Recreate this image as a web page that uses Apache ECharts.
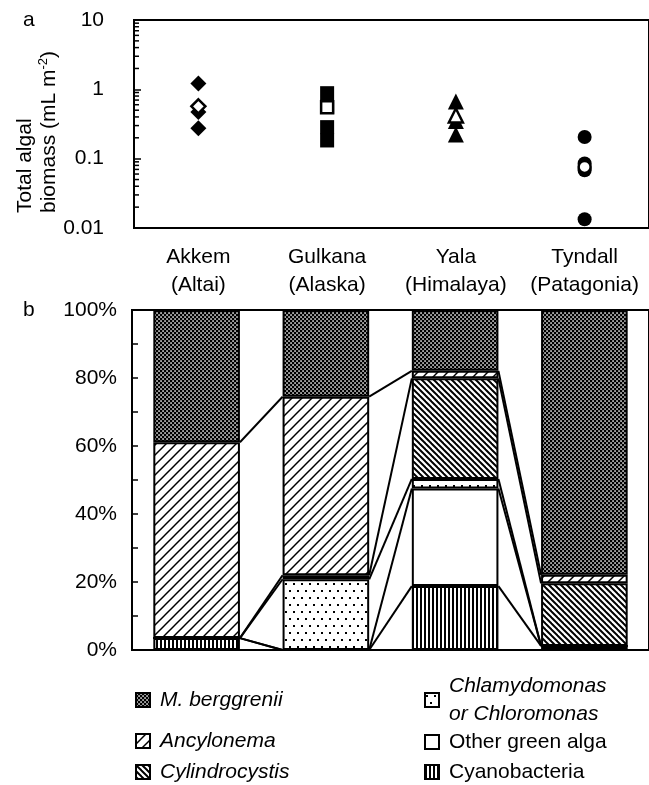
<!DOCTYPE html>
<html><head><meta charset="utf-8">
<script src="https://cdn.jsdelivr.net/npm/echarts@6/dist/echarts.min.js"></script>
<style>html,body{margin:0;padding:0;background:#fff}#c{width:649px;height:785px}</style>
</head><body><div id="c"></div>
<script>
// ---- data ----
const sites = ['Akkem\n(Altai)', 'Gulkana\n(Alaska)', 'Yala\n(Himalaya)', 'Tyndall\n(Patagonia)'];
// panel a: total algal biomass (mL m-2), filled = samples, open = mean
const akkemVals = [1.21, 0.47, 0.275];
const gulkanaVals = [0.88, 0.56, 0.285, 0.183];
const yalaVals = [0.67, 0.35, 0.224];
const tyndallVals = [0.205, 0.085, 0.068, 0.0134];
const meanVals = [0.57, 0.55, 0.42, 0.076];
const logMinorTicks = [0.02,0.03,0.04,0.05,0.06,0.07,0.08,0.09,0.2,0.3,0.4,0.5,0.6,0.7,0.8,0.9,2,3,4,5,6,7,8,9];
// panel b: relative composition (%) stacked from bottom
const cyanobacteria = [3.5, 0, 18.8, 1.2];
const otherGreen = [0, 0, 28.7, 0];
const chlamydomonas = [0, 20.8, 2.8, 0];
const cylindrocystis = [0, 1.2, 29.6, 18.4];
const ancylonema = [57.6, 52.5, 2.2, 2.5];
const berggrenii = [38.9, 25.5, 17.9, 77.9];

// ---- patterns ----
function tile(w, h, draw, bg) {
  const c = document.createElement('canvas'); c.width = w; c.height = h;
  const g = c.getContext('2d'); g.fillStyle = bg || '#fff'; g.fillRect(0, 0, w, h);
  g.fillStyle = '#000'; g.strokeStyle = '#000'; draw(g);
  return { image: c, repeat: 'repeat' };
}
const patChecker = tile(4, 4, g => { g.fillStyle = '#fff'; g.fillRect(0.3, 0.3, 1.5, 1.5); g.fillRect(2.3, 2.3, 1.5, 1.5); }, '#000');
const patFwd = tile(10, 10, g => { g.lineWidth = 1.5; [[0,10,10,0],[-5,5,5,-5],[5,15,15,5]].forEach(l => { g.beginPath(); g.moveTo(l[0], l[1]); g.lineTo(l[2], l[3]); g.stroke(); }); });
const patBack = tile(6, 6, g => { g.lineWidth = 2; [[0,0,6,6],[-3,3,3,9],[3,-3,9,3]].forEach(l => { g.beginPath(); g.moveTo(l[0], l[1]); g.lineTo(l[2], l[3]); g.stroke(); }); });
const patDots = tile(8, 14, g => { g.fillRect(1, 2, 2, 2); g.fillRect(5, 9, 2, 2); });
const patVert = tile(4, 4, g => { g.fillRect(0, 0, 2, 4); });

const FONT = 'Liberation Sans, Arial, sans-serif';
const composition = [
  { name: 'Cyanobacteria', data: cyanobacteria, color: patVert },
  { name: 'Other green alga', data: otherGreen, color: '#fff' },
  { name: 'Chlamydomonas\nor Chloromonas', data: chlamydomonas, color: patDots },
  { name: 'Cylindrocystis', data: cylindrocystis, color: patBack },
  { name: 'Ancylonema', data: ancylonema, color: patFwd },
  { name: 'M. berggrenii', data: berggrenii, color: patChecker }
];
// cumulative tops per site
const cum = sites.map((s, i) => { let t = 0; return composition.map(c => (t += c.data[i])); });

const barSeries = composition.map(c => ({
  type: 'bar', name: c.name, xAxisIndex: 1, yAxisIndex: 1, stack: 'total',
  barWidth: '67%', data: c.data,
  itemStyle: { color: c.color, borderColor: '#000', borderWidth: 2 },
  emphasis: { disabled: true }
}));

const siteSymbols = ['diamond', 'rect', 'triangle', 'circle'];
const siteSizes = [16, 14, 16, 14];
const filledSets = [akkemVals, gulkanaVals, yalaVals, tyndallVals];
const scatterSeries = filledSets.map((vals, i) => ({
  type: 'scatter', xAxisIndex: 0, yAxisIndex: 0,
  symbol: siteSymbols[i], symbolSize: siteSizes[i],
  data: vals.map(v => [i, v]), itemStyle: { color: '#000', opacity: 1 }, z: 3
}));
scatterSeries.push({
  type: 'scatter', xAxisIndex: 0, yAxisIndex: 0, z: 4,
  data: meanVals.map((v, i) => ({ value: [i, v], symbol: siteSymbols[i], symbolSize: siteSizes[i] - 2 })),
  itemStyle: { color: '#fff', borderColor: '#000', borderWidth: 2.5, opacity: 1 }
});

const minorTickSeries = {
  type: 'custom', xAxisIndex: 0, yAxisIndex: 0, silent: true, z: 5,
  data: logMinorTicks.map(v => [0, v]),
  renderItem: (params, api) => {
    const p = api.coord([0, api.value(1)]);
    const x0 = params.coordSys.x;
    return { type: 'line', shape: { x1: x0, y1: p[1], x2: x0 + 5, y2: p[1] }, style: { stroke: '#000', lineWidth: 1.5 } };
  }
};

const seriesLines = {
  type: 'custom', xAxisIndex: 1, yAxisIndex: 1, silent: true, z: 5,
  data: [[0, 0], [1, 0], [2, 0]],
  renderItem: (params, api) => {
    const i = api.value(0);
    const bw = api.size([1, 0])[0] * 0.67;
    const children = [];
    for (let k = 0; k < composition.length - 1; k++) {
      const p1 = api.coord([i, cum[i][k]]);
      const p2 = api.coord([i + 1, cum[i + 1][k]]);
      children.push({ type: 'line', shape: { x1: p1[0] + bw / 2, y1: p1[1], x2: p2[0] - bw / 2, y2: p2[1] }, style: { stroke: '#000', lineWidth: 2 } });
    }
    return { type: 'group', children };
  }
};

function legendAt(name, left, top, italic) {
  return {
    data: [{ name: name, icon: 'rect' }], left: left, top: top, padding: 0,
    itemWidth: 14, itemHeight: 14, selectedMode: false,
    itemStyle: { borderColor: '#000', borderWidth: 2 },
    textStyle: { fontFamily: FONT, fontSize: 21, color: '#000', fontStyle: italic ? 'italic' : 'normal', lineHeight: 28, padding: [0, 0, 0, 5] }
  };
}

const chart = echarts.init(document.getElementById('c'), null, { renderer: 'canvas' });
chart.setOption({
  animation: false,
  backgroundColor: '#fff',
  textStyle: { fontFamily: FONT },
  grid: [
    { left: 134, width: 518, top: 20, height: 208, show: true, borderColor: '#000', borderWidth: 2, backgroundColor: 'transparent' },
    { left: 132, width: 520, top: 310, height: 340, show: true, borderColor: '#000', borderWidth: 2, backgroundColor: 'transparent' }
  ],
  xAxis: [
    { type: 'category', gridIndex: 0, data: sites,
      axisLine: { lineStyle: { color: '#000', width: 2 } },
      axisTick: { inside: true, alignWithLabel: true, length: 6, lineStyle: { width: 1.5, color: '#000' } },
      axisLabel: { fontSize: 21, lineHeight: 28, color: '#000', margin: 15, fontFamily: FONT, interval: 0 } },
    { type: 'category', gridIndex: 1, data: sites,
      axisLine: { lineStyle: { color: '#000', width: 2 } },
      axisTick: { inside: true, length: 5, interval: 0, lineStyle: { width: 1.5, color: '#000' } },
      axisLabel: { show: false } }
  ],
  yAxis: [
    { type: 'log', gridIndex: 0, logBase: 10, min: 0.01, max: 10,
      axisLine: { show: true, lineStyle: { color: '#000', width: 2 } },
      axisTick: { show: true, inside: true, length: 7, lineStyle: { width: 1.5, color: '#000' } },
      splitLine: { show: false },
      axisLabel: { fontSize: 21, color: '#000', margin: 30, fontFamily: FONT,
        formatter: v => String(+v.toPrecision(3)) } },
    { type: 'value', gridIndex: 1, min: 0, max: 100, interval: 20,
      axisLine: { show: true, lineStyle: { color: '#000', width: 2 } },
      axisTick: { show: true, inside: true, length: 6, lineStyle: { width: 1.5, color: '#000' } },
      minorTick: { show: true, splitNumber: 2, length: 6, lineStyle: { width: 1.5, color: '#000' } },
      splitLine: { show: false },
      axisLabel: { fontSize: 21, color: '#000', margin: 15, fontFamily: FONT, formatter: '{value}%' } }
  ],
  legend: [
    legendAt('M. berggrenii', 135, 686, true),
    legendAt('Ancylonema', 135, 727, true),
    legendAt('Cylindrocystis', 135, 758, true),
    legendAt('Chlamydomonas\nor Chloromonas', 424, 672, true),
    legendAt('Other green alga', 424, 728, false),
    legendAt('Cyanobacteria', 424, 758, false)
  ],
  graphic: [
    { type: 'text', left: 23, top: 10, style: { text: 'a', font: '21px ' + FONT, fill: '#000' } },
    { type: 'text', left: 23, top: 300, style: { text: 'b', font: '21px ' + FONT, fill: '#000' } },
    { type: 'text', x: 37, y: 213, rotation: Math.PI / 2,
      style: { text: 'Total algal\nbiomass (mL m{sup|-2})', font: '21px ' + FONT, fill: '#000',
        textAlign: 'left', textVerticalAlign: 'middle', lineHeight: 24,
        rich: { sup: { fontSize: 13, fontFamily: FONT, verticalAlign: 'top', lineHeight: 24 } } } }
  ],
  series: scatterSeries.concat([minorTickSeries]).concat(barSeries).concat([seriesLines])
});
</script></body></html>
